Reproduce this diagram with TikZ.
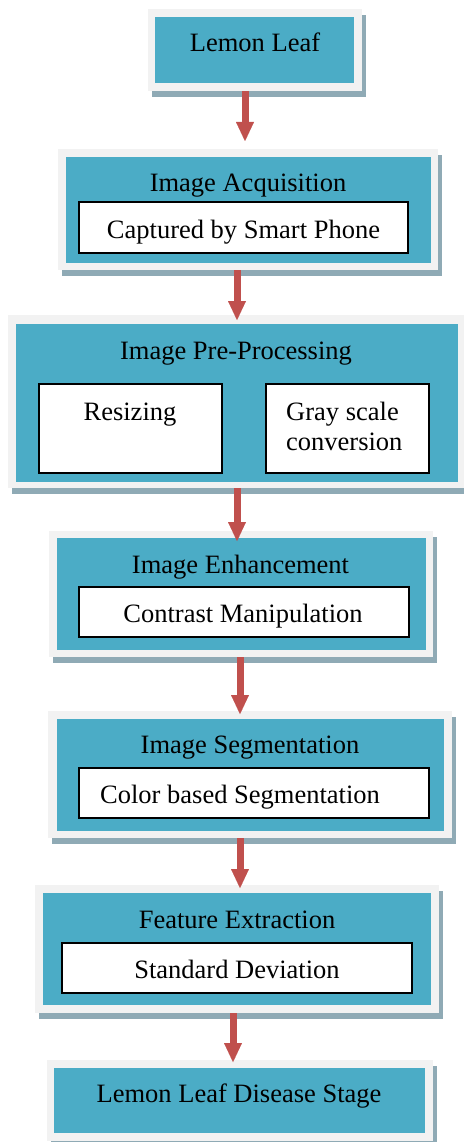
\documentclass[tikz,border=0pt]{standalone}
\usepackage{fontspec}
\setmainfont{Liberation Serif}
\usetikzlibrary{arrows.meta,shadows}
\definecolor{tealc}{RGB}{75,172,198}
\definecolor{framec}{RGB}{242,242,242}
\definecolor{shadowc}{RGB}{143,170,181}
\definecolor{arrowc}{RGB}{192,80,77}
\tikzset{
  outerframe/.style={fill=framec, inner sep=0pt, outer sep=0pt,
    drop shadow={shadow xshift=3.5pt, shadow yshift=-6pt, fill=shadowc, opacity=1}},
  tealbox/.style={fill=tealc, inner sep=0pt, outer sep=0pt},
  whitebox/.style={fill=white, draw=black, line width=1.3pt, inner sep=0pt, outer sep=0pt},
  txt/.style={font=\fontsize{26.5}{31}\selectfont, inner sep=0pt, anchor=base},
  txtl/.style={font=\fontsize{26.5}{31}\selectfont, inner sep=0pt, anchor=base west},
  flow/.style={draw=arrowc, line width=7pt, -{Triangle[width=18pt,length=19pt,line width=0.01pt]}}
}
\begin{document}
\begin{tikzpicture}[x=1pt,y=-1pt]
\useasboundingbox (0,0) rectangle (463,1142);
% Box 1
\node[outerframe, minimum width=214pt, minimum height=82pt] (f1) at (255,50) {};
\node[tealbox, minimum width=199pt, minimum height=66pt] (b1) at (254.5,50) {};
\node[txt] (l1) at (255,52) {Lemon Leaf};
% Box 2
\node[outerframe, minimum width=380pt, minimum height=121pt] (f2) at (248,209.5) {};
\node[tealbox, minimum width=365pt, minimum height=106pt] (b2) at (248.5,210) {};
\node[txt] (l2) at (248,192) {Image Acquisition};
\node[whitebox, minimum width=329pt, minimum height=51pt] (w2) at (243.5,227.5) {};
\node[txt] (s2) at (243.5,238) {Captured by Smart Phone};
% Box 3
\node[outerframe, minimum width=457pt, minimum height=173pt] (f3) at (236.5,401.5) {};
\node[tealbox, minimum width=442pt, minimum height=158pt] (b3) at (237,403) {};
\node[txt] (l3) at (236,359) {Image Pre-Processing};
\node[whitebox, minimum width=183pt, minimum height=89pt] (w3a) at (130.5,428.5) {};
\node[whitebox, minimum width=163pt, minimum height=89pt] (w3b) at (347.5,428.5) {};
\node[txt] (s3a) at (130,420) {Resizing};
\node[txtl] (s3b) at (286,420) {Gray scale};
\node[txtl] (s3c) at (286,450) {conversion};
% Box 4
\node[outerframe, minimum width=384pt, minimum height=126pt] (f4) at (241,594) {};
\node[tealbox, minimum width=369pt, minimum height=112pt] (b4) at (241.5,594) {};
\node[txt] (l4) at (240.5,573) {Image Enhancement};
\node[whitebox, minimum width=330pt, minimum height=50pt] (w4) at (244,612) {};
\node[txt] (s4) at (243,622) {Contrast Manipulation};
% Box 5
\node[outerframe, minimum width=404pt, minimum height=127pt] (f5) at (250,774.5) {};
\node[tealbox, minimum width=387pt, minimum height=112pt] (b5) at (250.5,775) {};
\node[txt] (l5) at (250,753) {Image Segmentation};
\node[whitebox, minimum width=350pt, minimum height=50pt] (w5) at (254,793) {};
\node[txtl] (s5) at (100,803) {Color based Segmentation};
% Box 6
\node[outerframe, minimum width=404pt, minimum height=128pt] (f6) at (237,949) {};
\node[tealbox, minimum width=388pt, minimum height=112pt] (b6) at (237,949) {};
\node[txt] (l6) at (237,928) {Feature Extraction};
\node[whitebox, minimum width=350pt, minimum height=50pt] (w6) at (237,968) {};
\node[txt] (s6) at (237,978) {Standard Deviation};
% Box 7
\node[outerframe, minimum width=386pt, minimum height=81pt] (f7) at (240,1100.5) {};
\node[tealbox, minimum width=371pt, minimum height=65pt] (b7) at (239.5,1100.5) {};
\node[txt] (l7) at (239,1102) {Lemon Leaf Disease Stage};
% Arrows
\coordinate (t1) at (245,141);
\coordinate (t2) at (237,320);
\coordinate (t3) at (237,541);
\coordinate (t4) at (240,714);
\coordinate (t5) at (240,888);
\coordinate (t6) at (233,1062);
\draw[flow] ([xshift=-10pt]f1.south) -- (t1);
\draw[flow] ([xshift=-11pt]f2.south) -- (t2);
\draw[flow] ([xshift=0.5pt]f3.south) -- (t3);
\draw[flow] ([xshift=-1pt]f4.south) -- (t4);
\draw[flow] ([xshift=-10pt]f5.south) -- (t5);
\draw[flow] ([xshift=-4pt]f6.south) -- (t6);
\end{tikzpicture}
\end{document}
